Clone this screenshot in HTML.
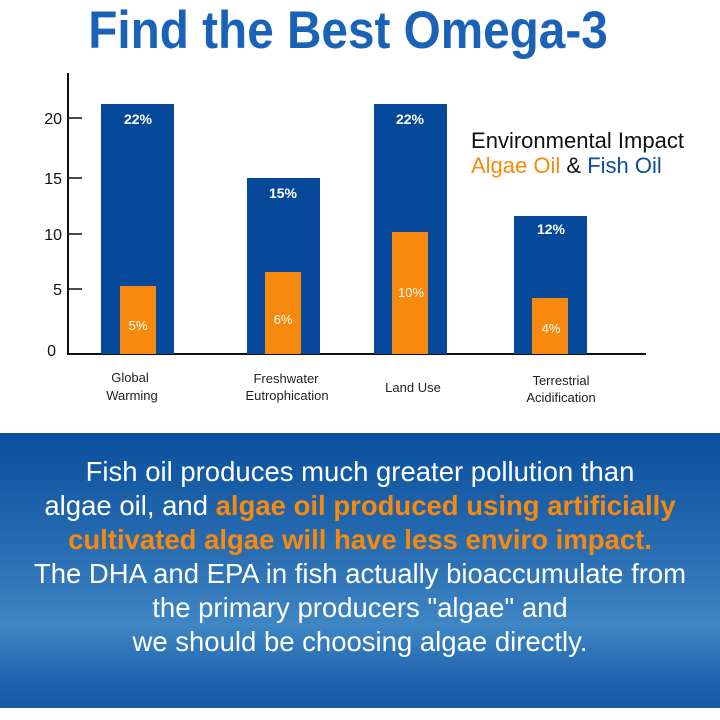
<!DOCTYPE html>
<html><head><meta charset="utf-8"><style>
body{margin:0;width:720px;height:720px;background:#fff;overflow:hidden;position:relative;font-family:"Liberation Sans",sans-serif}
.t{position:absolute;left:0;width:720px;text-align:center}
</style></head><body>
<div class="t" style="top:0px;left:-12px;font-size:53px;font-weight:bold;color:#1a62b8;transform:scaleX(0.9);transform-origin:360px 0">Find the Best Omega-3</div>
<svg width="720" height="430" style="position:absolute;left:0;top:0" font-family="Liberation Sans, sans-serif">
<line x1="68" y1="73" x2="68" y2="354" stroke="#111" stroke-width="2"/>
<line x1="67" y1="354" x2="646" y2="354" stroke="#111" stroke-width="2"/>
<g stroke="#111" stroke-width="1.5">
<line x1="68" y1="118" x2="82" y2="118"/><line x1="68" y1="178" x2="82" y2="178"/><line x1="68" y1="234" x2="82" y2="234"/><line x1="68" y1="289" x2="82" y2="289"/></g>
<g font-size="16" fill="#111" text-anchor="end">
<text x="62" y="124">20</text><text x="62" y="184">15</text><text x="62" y="240">10</text><text x="62" y="295">5</text><text x="56" y="356">0</text></g>
<g fill="#06499a">
<rect x="101" y="104" width="73" height="250"/><rect x="247" y="178" width="73" height="176"/><rect x="374" y="104" width="73" height="250"/><rect x="514" y="216" width="73" height="138"/></g>
<g fill="#f7890e">
<rect x="120" y="286" width="36" height="68"/><rect x="265" y="272" width="36" height="82"/><rect x="392" y="232" width="36" height="122"/><rect x="532" y="298" width="36" height="56"/></g>
<g fill="#fff" font-size="14" font-weight="bold" text-anchor="middle">
<text x="138" y="124">22%</text><text x="283" y="198">15%</text><text x="410" y="124">22%</text><text x="551" y="234">12%</text></g>
<g fill="#fff" font-size="13" text-anchor="middle">
<text x="138" y="330">5%</text><text x="283" y="324">6%</text><text x="411" y="297">10%</text><text x="551" y="333">4%</text></g>
<g fill="#222" font-size="13" text-anchor="middle">
<text x="130" y="382">Global</text><text x="132" y="400">Warming</text>
<text x="286" y="383">Freshwater</text><text x="287" y="400">Eutrophication</text>
<text x="413" y="392">Land Use</text>
<text x="561" y="385">Terrestrial</text><text x="561" y="402">Acidification</text></g>
<text x="471" y="148" font-size="22" fill="#111" textLength="213">Environmental Impact</text>
<text x="471" y="173" font-size="22"><tspan fill="#f7890e">Algae Oil</tspan><tspan fill="#111"> &amp; </tspan><tspan fill="#0b4c9c">Fish Oil</tspan></text>
</svg>
<div style="position:absolute;left:0;top:433px;width:720px;height:275px;background:linear-gradient(180deg,#0a4f9c 0%,#2a6fb3 45%,#3f86c4 70%,#1e63ad 90%,#145aa5 100%)"></div>
<div class="t" style="top:455px;font-size:27.5px;line-height:34px;color:#fff">Fish oil produces much greater pollution than<br>algae oil, and <b style="color:#f7890e">algae oil produced using artificially<br>cultivated algae will have less enviro impact.</b><br>The DHA and EPA in fish actually bioaccumulate from<br>the primary producers "algae" and<br>we should be choosing algae directly.</div>
</body></html>
